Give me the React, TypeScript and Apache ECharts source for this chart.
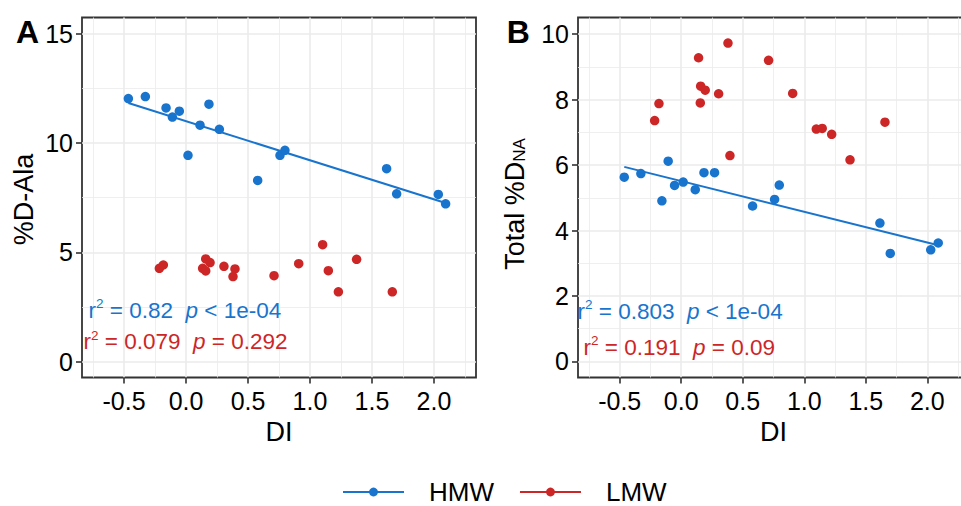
import React, { useEffect, useRef } from 'react';
import * as echarts from 'echarts';

// ---------- data ----------
const hmwDI_A = [-0.465, -0.328, -0.161, -0.11, -0.054, 0.016, 0.113, 0.185, 0.269, 0.578, 0.758, 0.798, 1.618, 1.699, 2.035, 2.094];
const hmwDAla = [12.04, 12.13, 11.61, 11.19, 11.46, 9.44, 10.82, 11.78, 10.63, 8.29, 9.44, 9.67, 8.83, 7.68, 7.65, 7.22];
const lmwDI_A = [-0.215, -0.183, 0.134, 0.159, 0.159, 0.194, 0.306, 0.379, 0.395, 0.71, 0.909, 1.102, 1.148, 1.229, 1.376, 1.664];
const lmwDAla = [4.27, 4.42, 4.27, 4.7, 4.15, 4.53, 4.36, 3.89, 4.24, 3.93, 4.48, 5.35, 4.16, 3.19, 4.68, 3.19];

const hmwDI_B = [-0.463, -0.328, -0.157, -0.106, -0.054, 0.016, 0.114, 0.185, 0.271, 0.58, 0.759, 0.797, 1.615, 1.699, 2.028, 2.089];
const hmwTotal = [5.63, 5.74, 4.91, 6.12, 5.38, 5.48, 5.25, 5.77, 5.77, 4.75, 4.95, 5.39, 4.23, 3.3, 3.41, 3.62];
const lmwDI_B = [-0.216, -0.181, 0.141, 0.155, 0.158, 0.195, 0.304, 0.38, 0.396, 0.71, 0.906, 1.098, 1.146, 1.223, 1.372, 1.656];
const lmwTotal = [7.36, 7.88, 9.28, 7.9, 8.41, 8.29, 8.18, 9.73, 6.29, 9.2, 8.19, 7.1, 7.12, 6.94, 6.16, 7.31];

const xTicks = [-0.5, 0, 0.5, 1, 1.5, 2];
const yTicksA = [0, 5, 10, 15];
const yTicksB = [0, 2, 4, 6, 8, 10];

const statsA = { hmw: ['0.82', '<', '1e-04'], lmw: ['0.079', '=', '0.292'] };
const statsB = { hmw: ['0.803', '<', '1e-04'], lmw: ['0.191', '=', '0.09'] };

// ---------- styling ----------
const FONT = '"Liberation Sans", Arial, Helvetica, sans-serif';
const BLUE = '#1874CD';
const RED = '#CD2626';
const GRIDC = '#EBEBEB';
const DARK = '#333333';

function pairs(xs: number[], ys: number[]) {
  return xs.map((x, i) => [x, ys[i]]);
}

function fitLine(xs: number[], ys: number[]) {
  const n = xs.length;
  const mx = xs.reduce((a, b) => a + b, 0) / n;
  const my = ys.reduce((a, b) => a + b, 0) / n;
  let sxy = 0;
  let sxx = 0;
  for (let i = 0; i < n; i++) {
    sxy += (xs[i] - mx) * (ys[i] - my);
    sxx += (xs[i] - mx) * (xs[i] - mx);
  }
  const b = sxy / sxx;
  const a = my - b * mx;
  const x0 = Math.min(...xs);
  const x1 = Math.max(...xs);
  return [
    [x0, a + b * x0],
    [x1, a + b * x1],
  ];
}

function isIn(v: number, list: number[]) {
  return list.some((t) => Math.abs(t - v) < 1e-6);
}

function makeX(gridIndex: number) {
  return {
    type: 'value',
    gridIndex,
    min: -0.839,
    max: 2.339,
    minInterval: 0.5,
    maxInterval: 0.5,
    axisLine: { show: false, onZero: false },
    axisTick: { show: true, length: 6, lineStyle: { color: DARK, width: 1.6 }, customValues: xTicks },
    axisLabel: {
      fontSize: 25,
      color: '#000',
      fontFamily: FONT,
      margin: 11,
      formatter: (v: number) => (isIn(v, xTicks) ? v.toFixed(1) : ''),
    },
    splitLine: { show: true, lineStyle: { color: GRIDC, width: 1.6 } },
    minorTick: { show: false, splitNumber: 2 },
    minorSplitLine: { show: true, lineStyle: { color: GRIDC, width: 0.8 } },
    name: 'DI',
    nameLocation: 'middle',
    nameGap: 34,
    nameTextStyle: { fontSize: 27, color: '#000', fontFamily: FONT },
  };
}

function makeY(
  gridIndex: number,
  min: number,
  max: number,
  step: number,
  ticks: number[],
  name: string,
  nameGap: number,
  extraName: any
) {
  return {
    type: 'value',
    gridIndex,
    min,
    max,
    minInterval: step,
    maxInterval: step,
    axisLine: { show: false, onZero: false },
    axisTick: { show: true, length: 6, lineStyle: { color: DARK, width: 1.6 }, customValues: ticks },
    axisLabel: {
      fontSize: 25,
      color: '#000',
      fontFamily: FONT,
      margin: 9,
      formatter: (v: number) => (isIn(v, ticks) ? String(Math.round(v)) : ''),
    },
    splitLine: { show: true, lineStyle: { color: GRIDC, width: 1.6 } },
    minorTick: { show: false, splitNumber: 2 },
    minorSplitLine: { show: true, lineStyle: { color: GRIDC, width: 0.8 } },
    name,
    nameLocation: 'middle',
    nameRotate: 90,
    nameGap,
    nameTextStyle: { fontSize: 27, color: '#000', fontFamily: FONT, ...extraName },
  };
}

function statText(x: number, y: number, color: string, s: string[]) {
  return {
    type: 'text',
    x,
    y,
    z: 100,
    style: {
      text: `{n|r}{s|2}{n| = ${s[0]}  }{i|p}{n| ${s[1]} ${s[2]}}`,
      align: 'left',
      verticalAlign: 'middle',
      rich: {
        n: { fontSize: 22.5, fontFamily: FONT, fill: color, lineHeight: 27 },
        s: { fontSize: 13.5, fontFamily: FONT, fill: color, lineHeight: 13, verticalAlign: 'top' },
        i: { fontSize: 22.5, fontFamily: FONT, fill: color, lineHeight: 27, fontStyle: 'italic' },
      },
    },
  };
}

function panelLetter(x: number, text: string) {
  return {
    type: 'text',
    x,
    y: 16,
    z: 100,
    style: { text, fontSize: 32, fontWeight: 'bold', fontFamily: FONT, fill: '#000', align: 'left', verticalAlign: 'top' },
  };
}

export default function App() {
  const ref = useRef<HTMLDivElement>(null);

  useEffect(() => {
    document.body.style.margin = '0';
    if (!ref.current) return;
    const chart = echarts.init(ref.current, undefined, { renderer: 'svg' });

    const scatter = (name: string, idx: number, data: number[][], color: string) => ({
      type: 'scatter',
      name,
      xAxisIndex: idx,
      yAxisIndex: idx,
      data,
      symbol: 'circle',
      symbolSize: 9.5,
      itemStyle: { color, opacity: 1 },
      z: 2,
    });
    const line = (name: string, idx: number, data: number[][], color: string) => ({
      type: 'line',
      name,
      xAxisIndex: idx,
      yAxisIndex: idx,
      data,
      symbol: 'circle',
      showSymbol: false,
      lineStyle: { color, width: 2 },
      itemStyle: { color },
      z: 3,
    });

    chart.setOption({
      animation: false,
      backgroundColor: '#ffffff',
      textStyle: { fontFamily: FONT },
      grid: [
        { left: 82, top: 17.5, width: 394, height: 360, show: true, borderColor: DARK, borderWidth: 1.8, backgroundColor: '#fff', containLabel: false, outerBoundsMode: 'none' },
        { left: 578, top: 17.5, width: 391, height: 360, show: true, borderColor: DARK, borderWidth: 1.8, backgroundColor: '#fff', containLabel: false, outerBoundsMode: 'none' },
      ],
      xAxis: [makeX(0), makeX(1)],
      yAxis: [
        makeY(0, -0.73, 15.75, 5, yTicksA, '%D-Ala', 44.5, { padding: [0, 4, 0, 0] }),
        makeY(1, -0.49, 10.51, 2, yTicksB, '{a|Total %D}{b|NA}', 50, {
          rich: {
            a: { fontSize: 27, fontFamily: FONT, color: '#000', lineHeight: 27 },
            b: { fontSize: 17, fontFamily: FONT, color: '#000', lineHeight: 15, verticalAlign: 'bottom', padding: [0, 13, 0, 0] },
          },
        }),
      ],
      legend: {
        data: ['HMW', 'LMW'],
        left: 337,
        top: 474,
        orient: 'horizontal',
        itemWidth: 61,
        itemHeight: 11,
        itemGap: 25,
        selectedMode: false,
        textStyle: { fontSize: 26, color: '#000', fontFamily: FONT, padding: [0, 0, 0, 20] },
      },
      series: [
        line('HMW', 0, fitLine(hmwDI_A, hmwDAla), BLUE),
        line('LMW', 0, [], RED),
        scatter('HMW', 0, pairs(hmwDI_A, hmwDAla), BLUE),
        scatter('LMW', 0, pairs(lmwDI_A, lmwDAla), RED),
        line('HMW', 1, fitLine(hmwDI_B, hmwTotal), BLUE),
        scatter('HMW', 1, pairs(hmwDI_B, hmwTotal), BLUE),
        scatter('LMW', 1, pairs(lmwDI_B, lmwTotal), RED),
      ],
      graphic: [
        panelLetter(16, 'A'),
        panelLetter(506.7, 'B'),
        statText(88.6, 310, BLUE, statsA.hmw),
        statText(83.6, 341.5, RED, statsA.lmw),
        statText(577.5, 311, BLUE, statsB.hmw),
        statText(583.6, 347, RED, statsB.lmw),
      ],
    });

    return () => chart.dispose();
  }, []);

  return <div ref={ref} style={{ width: 961, height: 506, position: 'absolute', left: 0, top: 0 }} />;
}
